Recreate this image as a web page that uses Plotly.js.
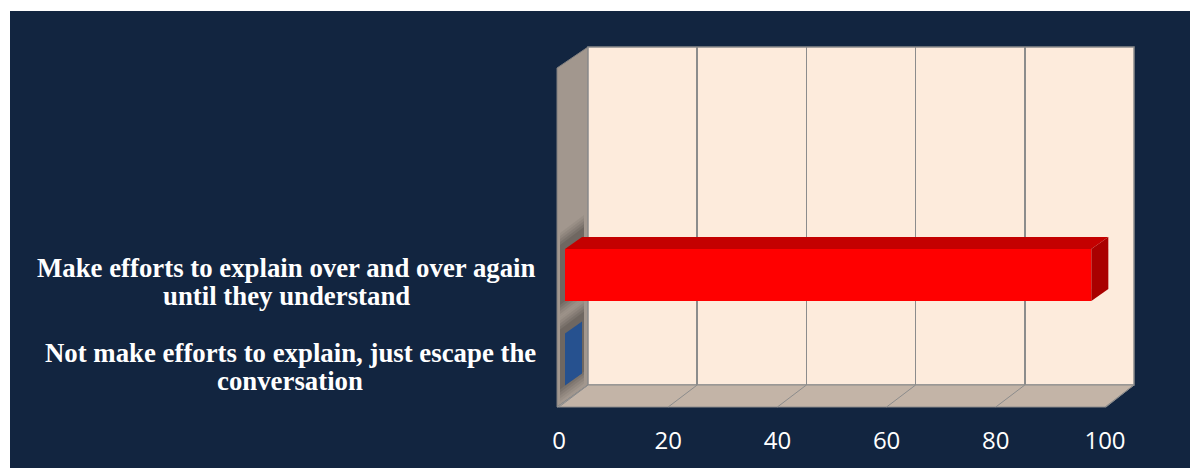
<!DOCTYPE html>
<html>
<head>
<meta charset="utf-8">
<script src="https://cdn.plot.ly/plotly-3.0.1.min.js"></script>
<style>
  html, body { margin: 0; padding: 0; background: #ffffff; }
  #chart { width: 1190px; height: 468px; }
</style>
</head>
<body>
<div id="chart"></div>
<script>
// Survey answers, bottom category first
const categories = [
  "Not make efforts to explain, just escape the<br>conversation",
  "Make efforts to explain over and over again<br>until they understand"
];
const values = [0, 96.4];
const tickValues = [0, 20, 40, 60, 80, 100];

// Face colours of each 3-D bar: front, top, end cap
const frontColors = ["#2A5597", "#FF0000"];
const topColors = ["#1F467F", "#C40000"];
const capColors = ["#26518F", "#A90000"];

const W = 1190, H = 468;
const px = x => x / W;
const py = y => 1 - y / H;

// Box geometry in pixels
const backL = 588, backR = 1134, backT = 47, backB = 385;
const frontL = 559, frontR = 1105, frontB = 407, sideL = 557, sideT = 68;
const faceL = 565, faceR = 1111;             // plane of the bar front faces
const catBottom = 359.5, catStep = 84.5;     // category centres on that plane
const yLow = -0.5, yHigh = 3.5;

// Depth of a bar expressed in the bar axes' data units
const depthX = 17 * 100 / (faceR - faceL);
const depthY = 12 / catStep;
const barWidth = 52 / catStep;

const pathPaper = pts => "M " + pts.map(p => px(p[0]) + "," + py(p[1])).join(" L ") + " Z";
const pathData = pts => "M " + pts.map(p => p[0] + "," + p[1]).join(" L ") + " Z";

const grey = "#8C8C8C";
const shapes = [
  // page background
  {type: "rect", xref: "paper", yref: "paper", x0: px(10), x1: 1, y0: 0, y1: py(11),
   fillcolor: "#122540", line: {width: 0}, layer: "below"},
  // left side wall
  {type: "path", xref: "paper", yref: "paper", layer: "below",
   path: pathPaper([[sideL, sideT], [backL, backT], [backL, backB], [sideL, frontB]]),
   fillcolor: "#A2978E", line: {color: "#7F7F7F", width: 1}}
];

// Soft shadows cast on the side wall around each bar's base
categories.forEach((c, i) => {
  const yc = catBottom - i * catStep;
  [[16, 0.05], [13, 0.06], [10, 0.07], [7, 0.08], [4, 0.09]].forEach(([pad, op]) => {
    const top = yc - 26 - pad, bot = yc + 26 + pad;
    shapes.push({type: "path", xref: "paper", yref: "paper", layer: "below",
      path: pathPaper([[sideL + 3, top], [backL - 4, top - 18], [backL - 4, bot - 18], [sideL + 3, bot]]),
      fillcolor: "#000000", opacity: op, line: {width: 0}});
  });
});

shapes.push(
  // back wall
  {type: "rect", xref: "paper", yref: "paper", layer: "below",
   x0: px(backL), x1: px(backR), y0: py(backB), y1: py(backT),
   fillcolor: "#FDEBDC", line: {color: grey, width: 1.5}},
  // floor
  {type: "path", xref: "paper", yref: "paper", layer: "below",
   path: pathPaper([[sideL, frontB], [backL, backB], [backR, backB], [frontR + 1, frontB]]),
   fillcolor: "#C3B4A7", line: {color: grey, width: 1}}
);

// Floor gridlines running from the back wall to the front edge
tickValues.forEach(v => {
  const xb = backL + (backR - backL) * v / 100;
  const xf = frontL + (frontR - frontL) * v / 100;
  shapes.push({type: "line", xref: "paper", yref: "paper", layer: "below",
    x0: px(xb), y0: py(backB), x1: px(xf), y1: py(frontB),
    line: {color: grey, width: 1}});
});

// Top face and end cap of each bar
values.forEach((v, i) => {
  const lo = i - barWidth / 2, hi = i + barWidth / 2;
  if (v > 0) {
    shapes.push({type: "path", xref: "x2", yref: "y2", layer: "above",
      path: pathData([[0, hi], [v, hi], [v + depthX, hi + depthY], [depthX, hi + depthY]]),
      fillcolor: topColors[i], line: {width: 0}});
  }
  shapes.push({type: "path", xref: "x2", yref: "y2", layer: "above",
    path: pathData([[v, lo], [v, hi], [v + depthX, hi + depthY], [v + depthX, lo + depthY]]),
    fillcolor: capColors[i], line: {width: 0}});
});

// Category labels: each block right-aligned at the axis, its lines centred
const labelFont = {family: "Liberation Serif", size: 26.8, color: "#FFFFFF", weight: "bold"};
const labelRight = 536, lineGap = 28;
const cssFont = "bold " + labelFont.size + "px '" + labelFont.family + "'";

function buildLabels() {
  const ctx = document.createElement("canvas").getContext("2d");
  ctx.font = cssFont;
  const out = [];
  categories.forEach((c, i) => {
    const lines = c.split("<br>");
    const blockW = Math.max(...lines.map(t => ctx.measureText(t).width));
    const centre = labelRight - blockW / 2;
    lines.forEach((t, k) => {
      out.push({
        xref: "paper", yref: "y2", x: px(centre), y: i,
        yshift: -7 - (k - (lines.length - 1) / 2) * lineGap,
        xanchor: "center", yanchor: "middle", showarrow: false,
        text: t, font: labelFont
      });
    });
  });
  return out;
}

const data = [
  {type: "bar", orientation: "h", xaxis: "x2", yaxis: "y2",
   x: values, y: categories.map((_, i) => i), width: barWidth,
   marker: {color: frontColors, line: {width: 0}}, hoverinfo: "skip"},
  {type: "scatter", mode: "none", x: [], y: [], xaxis: "x", yaxis: "y", hoverinfo: "skip"},
  {type: "scatter", mode: "none", x: [], y: [], xaxis: "x3", yaxis: "y3", hoverinfo: "skip"}
];

const hidden = {visible: false, fixedrange: true};
const layout = {
  width: W, height: H,
  margin: {l: 0, r: 0, t: 0, b: 0},
  paper_bgcolor: "#FFFFFF",
  plot_bgcolor: "rgba(0,0,0,0)",
  showlegend: false,
  // back wall gridlines
  xaxis: {domain: [px(backL), px(backR)], range: [0, 100], anchor: "y",
          tickvals: tickValues, showticklabels: false, ticks: "",
          showgrid: true, gridcolor: grey, gridwidth: 1.5, zeroline: false, showline: false, fixedrange: true},
  yaxis: Object.assign({domain: [py(backB), py(backT)], range: [0, 1], anchor: "x"}, hidden),
  // bar front-face plane
  xaxis2: Object.assign({domain: [px(faceL), px(faceR)], range: [0, 100], anchor: "y2"}, hidden),
  yaxis2: Object.assign({domain: [py(catBottom + (0 - yLow) * catStep), py(catBottom - (yHigh) * catStep)],
                         range: [yLow, yHigh], anchor: "x2"}, hidden),
  // value labels along the front edge of the floor
  xaxis3: {domain: [px(frontL), px(frontR)], range: [0, 100], anchor: "y3",
           tickvals: tickValues, ticktext: tickValues.map(String), ticks: "",
           ticklabelstandoff: 17,
           showgrid: false, zeroline: false, showline: false, fixedrange: true,
           tickfont: {family: "Open Sans", size: 24, color: "#FFFFFF"}},
  yaxis3: Object.assign({domain: [py(frontB), py(frontB - 20)], range: [0, 1], anchor: "x3"}, hidden),
  shapes: shapes
};

// Measure the labels once the serif face is ready, then draw
document.fonts.load(cssFont).catch(() => null).then(() => {
  layout.annotations = buildLabels();
  Plotly.newPlot("chart", data, layout, {displayModeBar: false, staticPlot: true});
});
</script>
</body>
</html>
